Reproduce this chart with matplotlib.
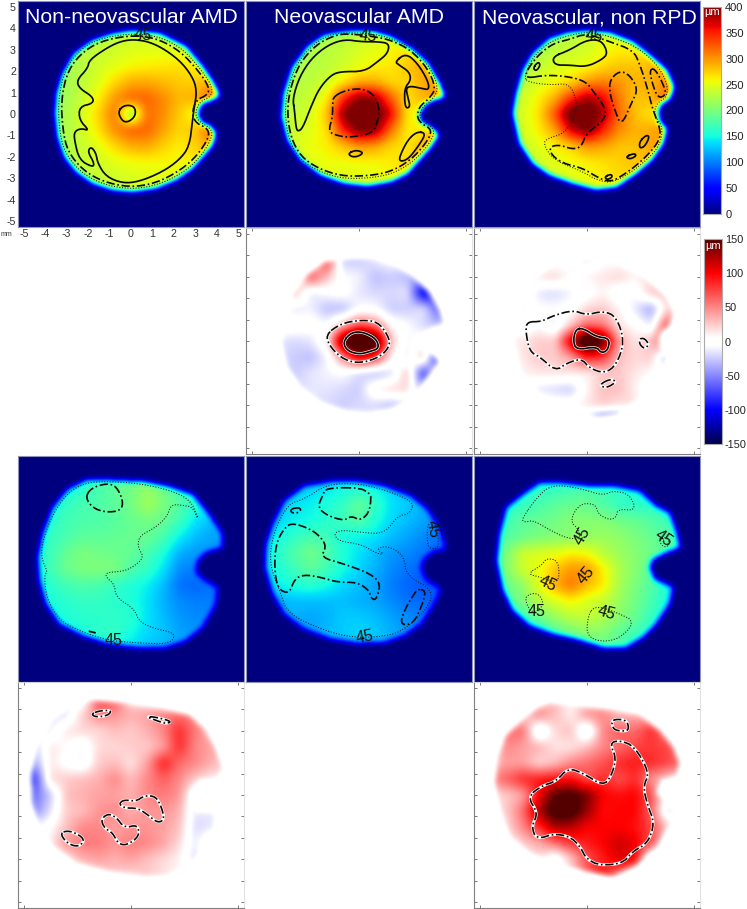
import numpy as np
import matplotlib
matplotlib.use('Agg')
import matplotlib.pyplot as plt
from matplotlib.colors import LinearSegmentedColormap
from matplotlib.path import Path

plt.rcParams['font.family'] = ['Liberation Sans', 'DejaVu Sans']
plt.rcParams['axes.unicode_minus'] = False

W, H = 747, 909

# grid of thickness values, mm
grid_x = [-4.5, -3.75, -3, -2.25, -1.5, -0.75, 0, 0.75, 1.5, 2.25, 3, 3.75, 4.5]
grid_y = [4.5, 3.75, 3, 2.25, 1.5, 0.75, 0, -0.75, -1.5, -2.25, -3, -3.75, -4.5]

# row 1 : total thickness
nonneo_thick = [
    [222, 222, 222, 222, 225, 232, 238, 235, 235, 235, 235, 235, 235],
    [222, 222, 222, 222, 225, 232, 238, 235, 235, 235, 235, 235, 235],
    [222, 222, 222, 230, 236, 240, 248, 250, 250, 250, 250, 250, 250],
    [222, 222, 222, 230, 242, 250, 258, 262, 265, 268, 262, 258, 258],
    [220, 220, 220, 232, 248, 272, 290, 292, 285, 278, 275, 295, 295],
    [215, 215, 220, 238, 262, 300, 322, 322, 305, 285, 290, 320, 320],
    [215, 215, 225, 245, 275, 315, 205, 318, 305, 278, 250, 245, 245],
    [215, 215, 225, 242, 268, 305, 325, 322, 295, 272, 280, 320, 320],
    [215, 215, 225, 238, 250, 272, 290, 292, 275, 262, 275, 295, 295],
    [218, 218, 225, 235, 242, 250, 255, 258, 258, 258, 262, 268, 268],
    [222, 222, 222, 230, 235, 240, 245, 248, 250, 252, 252, 252, 252],
    [222, 222, 222, 230, 235, 240, 245, 248, 250, 252, 252, 252, 252],
    [222, 222, 222, 230, 235, 240, 245, 248, 250, 252, 252, 252, 252],
]
neo_thick = [
    [225, 225, 225, 225, 225, 230, 235, 240, 250, 255, 255, 255, 255],
    [225, 225, 225, 225, 225, 230, 235, 240, 250, 255, 255, 255, 255],
    [225, 225, 225, 225, 230, 235, 245, 252, 258, 268, 275, 270, 270],
    [225, 225, 225, 228, 232, 240, 252, 260, 265, 278, 292, 285, 285],
    [225, 225, 228, 232, 240, 265, 290, 290, 272, 272, 292, 298, 298],
    [225, 225, 230, 238, 262, 345, 395, 390, 325, 268, 288, 305, 305],
    [228, 228, 235, 245, 280, 395, 430, 425, 365, 265, 252, 262, 262],
    [232, 232, 240, 250, 268, 350, 405, 395, 315, 262, 265, 305, 305],
    [235, 235, 245, 255, 262, 280, 300, 295, 272, 265, 288, 298, 298],
    [232, 232, 240, 250, 255, 255, 258, 258, 262, 272, 285, 280, 280],
    [230, 230, 238, 245, 248, 250, 250, 252, 260, 268, 270, 265, 265],
    [228, 228, 238, 240, 240, 240, 240, 245, 255, 260, 260, 260, 260],
    [228, 228, 238, 240, 240, 240, 240, 245, 255, 260, 260, 260, 260],
]
nonrpd_thick = [
    [220, 220, 220, 220, 225, 228, 240, 245, 250, 250, 250, 250, 250],
    [220, 220, 220, 220, 225, 228, 240, 245, 250, 250, 250, 250, 250],
    [220, 220, 220, 222, 232, 238, 242, 255, 262, 262, 275, 275, 275],
    [220, 220, 225, 235, 245, 248, 255, 270, 280, 280, 285, 295, 295],
    [225, 225, 232, 245, 258, 272, 300, 310, 300, 288, 288, 302, 325],
    [232, 232, 242, 262, 290, 345, 385, 365, 310, 280, 285, 325, 345],
    [238, 238, 245, 268, 330, 420, 430, 385, 320, 282, 265, 268, 268],
    [235, 235, 245, 262, 295, 370, 405, 350, 305, 288, 292, 302, 302],
    [232, 232, 238, 250, 260, 275, 300, 295, 280, 280, 295, 300, 300],
    [230, 230, 235, 242, 250, 255, 262, 268, 275, 280, 285, 280, 280],
    [230, 230, 232, 238, 245, 250, 255, 262, 270, 275, 275, 270, 270],
    [230, 230, 232, 235, 240, 245, 250, 258, 265, 270, 270, 270, 270],
    [230, 230, 232, 235, 240, 245, 250, 258, 265, 270, 270, 270, 270],
]

# row 3
nonneo_row3 = [
    [150, 150, 150, 160, 175, 185, 195, 210, 195, 175, 165, 150, 150],
    [150, 150, 150, 160, 175, 185, 195, 212, 195, 175, 165, 150, 150],
    [150, 150, 165, 175, 178, 185, 195, 218, 200, 180, 160, 145, 145],
    [150, 160, 172, 176, 178, 182, 190, 195, 190, 170, 140, 125, 125],
    [150, 165, 176, 185, 185, 188, 190, 190, 175, 145, 125, 115, 115],
    [150, 170, 190, 200, 195, 192, 188, 175, 155, 120, 110, 110, 110],
    [150, 172, 192, 200, 202, 200, 178, 165, 140, 105, 100, 100, 100],
    [150, 160, 172, 178, 175, 165, 155, 145, 125, 95, 90, 95, 95],
    [150, 155, 160, 165, 165, 160, 155, 140, 120, 105, 100, 100, 100],
    [150, 150, 155, 160, 160, 162, 160, 140, 125, 110, 105, 105, 105],
    [140, 140, 145, 155, 162, 165, 150, 135, 128, 115, 110, 105, 105],
    [130, 130, 130, 145, 150, 148, 138, 128, 122, 118, 110, 105, 105],
    [130, 130, 130, 145, 150, 148, 138, 128, 122, 118, 110, 105, 105],
]
neo_row3 = [
    [130, 130, 130, 135, 140, 150, 155, 150, 135, 125, 125, 125, 125],
    [130, 130, 130, 135, 140, 150, 155, 150, 135, 125, 125, 125, 125],
    [130, 130, 140, 145, 155, 165, 190, 165, 140, 130, 120, 110, 110],
    [130, 135, 145, 150, 160, 170, 180, 155, 135, 125, 115, 100, 100],
    [135, 150, 165, 175, 170, 150, 145, 140, 125, 115, 105, 95, 95],
    [140, 160, 180, 195, 180, 155, 140, 125, 110, 105, 95, 90, 90],
    [140, 155, 170, 185, 170, 150, 135, 120, 105, 95, 90, 90, 90],
    [130, 145, 155, 160, 150, 135, 125, 115, 100, 90, 85, 85, 85],
    [120, 120, 125, 125, 125, 125, 120, 115, 105, 95, 90, 90, 90],
    [120, 120, 120, 115, 120, 130, 130, 125, 115, 105, 100, 95, 95],
    [115, 115, 115, 115, 125, 130, 135, 130, 120, 110, 105, 100, 100],
    [115, 115, 115, 115, 120, 125, 125, 125, 115, 110, 105, 100, 100],
    [115, 115, 115, 115, 120, 125, 125, 125, 115, 110, 105, 100, 100],
]
nonrpd_row3 = [
    [160, 160, 160, 160, 165, 172, 178, 170, 165, 160, 155, 155, 155],
    [160, 160, 160, 160, 165, 172, 178, 170, 165, 160, 155, 155, 155],
    [160, 160, 165, 175, 185, 190, 190, 180, 165, 160, 160, 155, 155],
    [170, 170, 185, 190, 195, 205, 205, 205, 195, 190, 180, 170, 170],
    [175, 180, 190, 200, 205, 205, 210, 215, 210, 200, 190, 180, 180],
    [180, 200, 240, 245, 250, 262, 255, 230, 215, 205, 195, 180, 180],
    [180, 205, 240, 255, 280, 300, 300, 262, 225, 205, 185, 165, 165],
    [180, 190, 210, 250, 290, 315, 285, 265, 220, 200, 180, 155, 155],
    [170, 180, 200, 230, 245, 260, 245, 235, 215, 195, 175, 150, 150],
    [165, 165, 170, 190, 215, 230, 235, 225, 205, 190, 165, 150, 150],
    [150, 150, 150, 155, 175, 195, 205, 205, 185, 170, 160, 150, 150],
    [150, 150, 150, 155, 165, 172, 180, 185, 178, 165, 160, 150, 150],
    [150, 150, 150, 155, 165, 172, 180, 185, 178, 165, 160, 150, 150],
]

# difference maps, rows 2 and 4
neo_diff = [
    [0, 0, 0, 0, 0, 0, 0, 0, 0, 0, 0, 0, 0],
    [0, 0, 0, 0, 80, -25, -25, -15, -5, -25, 0, 0, 0],
    [0, 0, 0, 70, 30, -5, -10, -30, -25, -30, -50, 0, 0],
    [0, 0, 30, -15, -5, 0, -15, -20, -20, -15, -110, -80, 0],
    [0, 0, -15, -10, -30, -30, -5, -5, -25, -25, -15, -70, 0],
    [0, 5, 5, 0, -5, 30, 70, 55, 5, -5, -20, -30, 0],
    [0, -15, -20, -15, 10, 150, 215, 175, 30, -10, 5, -5, 0],
    [0, -20, -25, -30, -10, 50, 110, 85, 10, -15, 30, -110, 0],
    [0, -20, -25, -15, -10, -5, -20, -30, -20, 30, -80, 0, 0],
    [0, -10, -20, -15, -15, -20, -25, 10, 20, 20, -35, 0, 0],
    [0, 0, -10, -15, -20, -25, -20, -20, -30, -20, -15, 0, 0],
    [0, 0, 0, 0, -10, -15, -15, -15, -10, 0, 0, 0, 0],
    [0, 0, 0, 0, 0, 0, 0, 0, 0, 0, 0, 0, 0],
]
nonrpd_diff = [
    [0, 0, 0, 0, 0, 0, -15, 0, 0, 0, 0, 0, 0],
    [0, 0, 0, 0, 0, 5, -15, 5, 5, 0, 0, 0, 0],
    [0, 0, 0, 15, 20, 5, 10, 15, 20, 10, 20, 25, 0],
    [0, 0, 10, -15, -20, -10, 0, 10, -5, -5, 25, 30, 0],
    [0, 0, 10, -5, -5, 0, 20, 25, 10, -15, -40, 20, 35],
    [0, 0, -10, 5, -15, 25, 60, 55, 15, 5, -15, 75, 0],
    [0, 10, 15, 25, 25, 115, 200, 150, 40, 15, 30, 95, 0],
    [0, 0, 15, 25, 25, 40, 90, 80, 30, 20, 25, -40, 0],
    [0, 0, 10, 15, 15, 15, 10, 25, 25, 15, 5, 0, 0],
    [0, 0, 0, -15, -20, -25, 10, 30, 30, 10, -10, 0, 0],
    [0, 0, 5, 10, 5, 5, 15, 25, 15, 20, 5, 0, 0],
    [0, 0, 0, 0, -20, -15, -25, -80, -70, -5, 0, 0, 0],
    [0, 0, 0, 0, 0, 0, 0, 0, 0, 0, 0, 0, 0],
]
nonneo_diff4 = [
    [-10, -10, -10, -10, 80, 70, 15, 15, 15, 15, 15, 0, 0],
    [-20, -20, -15, 25, 50, 45, 35, 40, 50, 60, 50, 20, 0],
    [-20, -10, 15, 20, 20, 30, 25, 35, 50, 85, 55, 30, 15],
    [-25, 15, 5, -10, 20, 20, 25, 25, 40, 85, 50, 40, 25],
    [-40, 15, 0, -10, 25, 30, 15, 40, 90, 60, 50, 35, 25],
    [-80, 20, 25, 30, 35, 50, 30, 50, 65, 50, 25, 15, 0],
    [-60, -25, 30, 35, 40, 40, 35, 50, 55, 45, -15, -10, 0],
    [-50, -15, 25, 30, 45, 50, 35, 45, 45, 35, -15, -15, 0],
    [-10, 5, 30, 50, 50, 40, 45, 45, 40, 30, -20, -15, 0],
    [-5, 15, 45, 55, 55, 45, 55, 50, 40, 20, -15, 20, 0],
    [0, 5, 15, 35, 40, 35, 40, 30, 20, 10, -20, 30, 0],
    [0, 0, 0, 10, 20, 25, 20, 25, 15, 10, 0, 0, 0],
    [0, 0, 0, 0, 0, 0, 0, 0, 0, 0, 0, 0, 0],
]
nonrpd_diff4 = [
    [0, 0, 0, 25, 30, 10, 20, 30, 20, 20, 0, 0, 0],
    [0, 0, 20, 50, 30, 10, 45, 50, 30, 35, 30, 0, 0],
    [0, 60, 60, -25, 20, 30, -25, 50, 65, 60, 85, 50, 20],
    [20, 50, 40, 35, 15, 15, 30, 50, 60, 75, 80, 75, 50],
    [30, 40, 40, 20, 30, 50, 60, 70, 85, 90, 85, 75, 60],
    [50, 65, 85, 90, 95, 95, 70, 85, 70, 85, 45, 25, 10],
    [20, 25, 40, 100, 150, 160, 140, 100, 95, 100, 70, 5, 0],
    [15, 25, 60, 125, 165, 165, 130, 95, 100, 100, 65, -20, 0],
    [10, 20, 50, 85, 125, 120, 100, 100, 100, 95, 75, 30, 0],
    [0, 5, 25, 35, 60, 80, 90, 100, 115, 105, 70, 15, 0],
    [0, 0, 5, 20, -15, 25, 70, 90, 110, 100, -30, 0, 0],
    [0, 0, 0, 0, 5, 30, 70, 90, 50, 20, 0, 0, 0],
    [0, 0, 0, 0, 0, 0, 0, 0, 0, 0, 0, 0, 0],
]

# scan area outlines, mm
outline_a = [(0.08, 3.88), (1.32, 3.76), (2.56, 3.14), (3.34, 2.21), (3.80, 1.51), (4.11, 0.88), (3.80, 0.68), (3.36, 0.53), (3.17, 0.26), (3.12, -0.05), (3.29, -0.40), (3.71, -0.59), (3.94, -0.90), (3.80, -1.44), (3.34, -1.99), (2.87, -2.53), (2.10, -3.07), (1.16, -3.46), (0.08, -3.62), (-0.85, -3.54), (-1.79, -3.23), (-2.56, -2.69), (-3.11, -1.99), (-3.42, -1.06), (-3.53, 0.03), (-3.46, 0.96), (-3.18, 1.89), (-2.64, 2.82), (-1.79, 3.43), (-0.85, 3.74)]
outline_b = [(-0.68, 3.84), (0.56, 3.88), (1.49, 3.60), (2.42, 3.06), (3.20, 2.36), (3.74, 1.43), (3.98, 0.81), (3.51, 0.68), (3.12, 0.47), (2.81, 0.03), (2.89, -0.36), (3.43, -0.67), (3.70, -0.98), (3.35, -1.52), (2.81, -2.14), (2.27, -2.76), (1.49, -3.15), (0.40, -3.35), (-0.68, -3.23), (-1.77, -2.84), (-2.70, -2.14), (-3.32, -1.21), (-3.60, -0.12), (-3.51, 0.96), (-3.09, 2.20), (-2.39, 3.14), (-1.61, 3.68)]
outline_c = [(-0.03, 3.88), (1.06, 3.79), (2.14, 3.37), (2.92, 2.75), (3.70, 2.05), (4.04, 1.27), (3.85, 0.73), (3.46, 0.47), (3.31, 0.11), (3.39, -0.36), (3.70, -0.67), (3.54, -1.37), (3.00, -2.14), (2.30, -2.76), (1.37, -3.39), (0.43, -3.51), (-0.65, -3.23), (-1.74, -2.84), (-2.52, -2.30), (-3.14, -1.37), (-3.45, 0.03), (-3.29, 0.96), (-2.98, 2.05), (-2.52, 2.83), (-1.74, 3.52), (-0.89, 3.79)]
outline_d = [(-1.01, 4.15), (0.54, 4.08), (1.79, 3.84), (2.88, 3.49), (3.65, 2.56), (4.27, 1.63), (4.27, 1.01), (3.49, 0.78), (3.11, 0.39), (3.03, -0.16), (3.49, -0.54), (4.04, -0.85), (3.96, -1.63), (3.34, -2.72), (2.56, -3.35), (1.63, -3.65), (0.23, -3.65), (-1.01, -3.49), (-2.25, -3.11), (-3.34, -2.56), (-3.96, -1.63), (-4.27, -0.54), (-4.35, 0.54), (-4.12, 1.63), (-3.65, 2.87), (-2.95, 3.73), (-2.10, 4.15)]
outline_e = [(-1.30, 4.08), (-0.06, 4.08), (1.18, 3.88), (2.42, 3.42), (3.20, 2.80), (3.82, 1.86), (4.05, 0.92), (3.51, 0.85), (3.04, 0.47), (2.89, 0.08), (3.12, -0.47), (3.82, -0.93), (3.51, -1.63), (2.89, -2.56), (2.11, -3.11), (1.18, -3.42), (-0.06, -3.46), (-1.30, -3.26), (-2.55, -2.80), (-3.48, -2.10), (-4.02, -1.16), (-4.38, 0.08), (-4.33, 1.16), (-4.02, 2.10), (-3.48, 3.18), (-2.55, 3.88)]
outline_f = [(-1.43, 4.04), (-0.03, 3.88), (1.21, 3.88), (2.45, 3.65), (3.23, 2.95), (3.85, 2.64), (4.16, 1.78), (4.32, 1.01), (3.70, 0.78), (3.07, 0.47), (2.92, 0.08), (3.15, -0.47), (4.01, -0.85), (3.85, -1.63), (3.23, -2.56), (2.61, -3.18), (1.83, -3.65), (0.74, -3.65), (-0.50, -3.26), (-1.58, -3.03), (-2.67, -2.64), (-3.45, -1.94), (-3.91, -1.01), (-4.19, 0.39), (-4.07, 1.63), (-3.76, 2.87), (-2.98, 3.49), (-2.20, 4.04)]
outline_g = [(-1.94, 4.41), (-0.23, 4.29), (1.32, 4.05), (2.72, 3.74), (3.49, 3.04), (3.96, 2.11), (4.30, 1.18), (4.04, 0.79), (3.18, 0.71), (2.80, 0.02), (3.03, -0.84), (3.96, -0.84), (3.88, -1.61), (3.49, -2.55), (2.56, -3.32), (1.63, -3.79), (0.54, -3.79), (-1.01, -3.56), (-2.56, -3.17), (-3.65, -2.39), (-4.27, -1.46), (-4.61, -0.37), (-4.66, 1.02), (-4.35, 2.27), (-3.65, 3.51), (-2.72, 4.21)]
outline_h = [(-1.74, 4.29), (-0.19, 4.13), (1.21, 3.98), (2.45, 3.74), (3.39, 3.04), (4.01, 2.27), (4.32, 1.49), (4.16, 0.87), (3.46, 0.71), (3.23, 0.09), (3.70, -0.30), (4.25, -0.84), (3.70, -1.61), (3.23, -2.55), (2.30, -3.32), (1.21, -3.82), (-0.03, -3.56), (-1.43, -3.17), (-2.67, -2.70), (-3.60, -1.93), (-3.98, -0.84), (-4.30, 0.56), (-4.14, 1.80), (-3.82, 2.73), (-3.14, 3.42), (-2.36, 4.04)]

# contours : solid, dash-dot, dotted
a_solid = [
    [(0.08, 3.48), (0.85, 3.37), (1.63, 2.98), (2.41, 2.36), (2.95, 1.58), (3.06, 0.96), (2.95, 0.34), (2.87, -0.28), (2.72, -1.52), (2.25, -2.14), (1.48, -2.69), (0.39, -3.15), (-0.39, -3.23), (-1.16, -2.92), (-1.55, -2.30), (-1.63, -1.83), (-1.86, -1.52), (-2.02, -1.75), (-1.71, -2.30), (-1.79, -2.48), (-2.41, -2.14), (-2.64, -1.21), (-2.64, -0.82), (-2.33, -0.67), (-1.94, -0.78), (-2.41, -0.28), (-2.41, 0.34), (-1.75, 0.50), (-1.79, 0.81), (-2.41, 1.20), (-2.53, 1.58), (-2.02, 2.13), (-1.94, 2.52), (-1.16, 3.06), (-0.54, 3.37)],
    [(-0.62, 0.11), (-0.31, 0.42), (0.16, 0.37), (0.23, -0.05), (-0.08, -0.36), (-0.39, -0.36)],
]
a_dashdot = [[(0.23, 3.68), (1.32, 3.48), (2.33, 2.90), (3.18, 1.97), (3.65, 1.24), (3.57, 0.89), (3.03, 0.65), (2.84, 0.03), (3.03, -0.43), (3.57, -0.67), (3.65, -1.06), (3.11, -1.91), (2.33, -2.61), (1.16, -3.23), (-0.08, -3.42), (-1.32, -3.15), (-2.25, -2.61), (-2.95, -1.75), (-3.18, -0.75), (-3.26, 0.65), (-2.95, 2.05), (-2.17, 2.98), (-1.16, 3.48)]]
a_dotted = [[(0.23, 3.76), (1.47, 3.56), (2.48, 2.98), (3.34, 1.97), (3.80, 1.24), (3.73, 0.81), (3.19, 0.57), (2.98, 0.03), (3.17, -0.36), (3.73, -0.67), (3.80, -1.06), (3.26, -1.99), (2.41, -2.76), (1.16, -3.34), (-0.08, -3.51), (-1.39, -3.26), (-2.41, -2.67), (-3.11, -1.75), (-3.34, -0.75), (-3.40, 0.65), (-3.07, 2.13), (-2.25, 3.14), (-1.16, 3.60)]]

b_solid = [
    [(-3.01, 0.19), (-3.09, 0.73), (-2.77, 1.74), (-2.22, 2.59), (-1.46, 3.21), (-0.68, 3.48), (0.09, 3.37), (0.87, 3.37), (1.41, 3.29), (1.34, 2.83), (0.87, 2.44), (0.25, 1.98), (-0.84, 1.98), (-1.30, 1.82), (-1.85, 1.20), (-2.24, 0.34), (-2.63, -0.67), (-2.86, -0.82), (-2.94, -0.59)],
    [(1.68, 2.44), (2.19, 2.83), (2.73, 2.36), (3.20, 1.58), (3.28, 1.12), (2.89, 1.20), (2.42, 1.30), (2.19, 1.20), (2.27, 0.81), (2.39, 0.34), (2.19, 0.26), (2.12, 0.65), (2.14, 1.23), (2.42, 1.58), (2.34, 1.97), (1.87, 2.28)],
    [(2.73, -0.82), (3.12, -0.90), (2.81, -1.44), (2.27, -2.14), (1.83, -2.22), (2.03, -1.67), (2.34, -1.13)],
    [(-0.50, -1.83), (-0.14, -1.68), (0.22, -1.80), (-0.06, -1.99), (-0.37, -1.99)],
]
b_dashdot = [
    [(-1.18, 0.81), (-0.68, 1.09), (0.09, 1.20), (0.64, 0.96), (0.95, 0.34), (0.87, -0.36), (0.64, -0.90), (-0.37, -1.09), (-0.99, -1.02), (-1.43, -0.82), (-1.23, -0.12), (-1.23, 0.50)],
    [(-0.68, 3.76), (0.56, 3.63), (1.49, 3.45), (2.42, 2.98), (3.20, 2.13), (3.59, 1.20), (3.28, 0.73), (2.81, 0.34), (2.70, -0.12), (2.89, -0.43), (3.43, -0.75), (3.12, -1.37), (2.42, -2.14), (1.49, -2.69), (0.40, -2.89), (-0.84, -2.89), (-1.92, -2.53), (-2.70, -1.99), (-3.17, -1.13), (-3.35, 0.03), (-3.23, 1.12), (-2.78, 2.36), (-2.01, 3.21), (-1.30, 3.60)],
]
b_dotted = [[(-0.68, 3.80), (0.56, 3.75), (1.55, 3.52), (2.50, 3.06), (3.31, 2.20), (3.72, 1.20), (3.40, 0.65), (2.92, 0.28), (2.81, -0.12), (3.00, -0.36), (3.58, -0.75), (3.24, -1.45), (2.50, -2.25), (1.55, -2.80), (0.40, -3.00), (-0.88, -3.00), (-2.00, -2.62), (-2.80, -2.07), (-3.28, -1.18), (-3.46, 0.03), (-3.34, 1.15), (-2.88, 2.42), (-2.08, 3.30), (-1.35, 3.70)]]

c_solid = [
    [(-1.61, 2.67), (-0.81, 2.98), (-0.03, 3.45), (0.67, 3.45), (0.98, 2.83), (0.67, 2.52), (-0.03, 2.20), (-0.81, 2.28), (-1.51, 2.28)],
    [(-2.52, 2.13), (-2.28, 2.44), (-2.17, 2.28), (-2.36, 2.00)],
    [(2.45, -1.29), (2.76, -0.98), (2.92, -1.06), (2.69, -1.52), (2.45, -1.60)],
    [(1.80, -1.99), (2.22, -1.83), (2.30, -1.96), (1.99, -2.11)],
    [(0.82, -2.92), (1.14, -2.80), (1.18, -2.95), (0.93, -3.07)],
]
c_dashdot = [
    [(-2.83, 1.66), (-1.90, 1.82), (-0.81, 1.74), (-0.03, 1.50), (0.36, 0.96), (0.87, 0.26), (0.82, -0.28), (-0.03, -0.90), (-0.26, -1.52), (-0.65, -1.65), (-1.27, -1.44), (-1.74, -1.52), (-1.66, -1.91), (-1.12, -2.30), (-0.19, -2.53), (0.43, -2.92), (1.06, -3.20), (1.83, -2.76), (2.61, -2.14), (3.30, -1.37), (3.46, -0.82), (3.07, 0.19), (2.84, 1.12), (2.45, 2.36), (2.14, 2.98), (1.06, 3.37), (-0.03, 3.76), (-0.81, 3.48), (-1.58, 3.29), (-2.28, 2.75), (-2.83, 1.99)],
    [(1.06, 1.58), (1.52, 2.02), (1.99, 1.82), (2.38, 1.15), (2.07, 0.50), (1.60, -0.56), (1.29, 0.19), (1.06, 0.96)],
    [(2.92, 2.05), (3.15, 2.13), (3.54, 1.43), (3.70, 0.89), (3.31, 0.73), (3.04, 1.43)],
]
c_dotted = [[(-2.83, 1.50), (-2.90, 1.82), (-2.52, 2.67), (-1.74, 3.37), (-0.81, 3.68), (0.12, 3.84), (1.21, 3.57), (2.30, 3.14), (3.15, 2.44), (3.70, 1.58), (3.77, 0.81), (3.23, 0.50), (3.12, -0.05), (3.54, -0.59), (3.39, -1.52), (2.45, -2.45), (1.21, -3.23), (0.43, -3.07), (-0.19, -2.69), (-1.58, -2.14), (-2.05, -1.37), (-1.82, -1.13), (-1.04, -0.90), (-0.50, 0.03), (-0.50, 0.65), (-0.81, 1.43), (-1.74, 1.35)]]

neo_diff_dash = [[(-1.58, 0.28), (-0.84, 0.82), (0.09, 0.98), (0.87, 0.90), (1.34, 0.28), (1.46, -0.19), (1.02, -0.73), (0.09, -1.04), (-0.68, -0.89), (-1.30, -0.34)]]
neo_diff_solid = [[(-0.76, -0.06), (-0.37, 0.40), (0.17, 0.43), (0.79, 0.12), (0.95, -0.34), (0.48, -0.50), (0.02, -0.62), (-0.53, -0.47)]]
nonrpd_diff_dash = [
    [(-2.80, 0.90), (-2.13, 0.90), (-1.58, 1.18), (-0.65, 1.44), (-0.03, 1.21), (0.75, 1.40), (1.37, 1.14), (1.75, -0.03), (1.37, -1.12), (0.82, -1.51), (0.12, -1.27), (-0.26, -0.81), (-0.96, -1.04), (-1.46, -1.40), (-2.21, -0.73), (-2.67, -0.50), (-2.86, 0.43)],
    [(2.45, 0.12), (2.69, 0.12), (2.89, -0.16), (2.69, -0.37), (2.45, -0.16)],
    [(0.56, -2.05), (1.06, -1.77), (1.40, -1.89), (0.90, -2.20)],
]
nonrpd_diff_solid = [[(-0.50, 0.59), (-0.11, 0.56), (0.43, 0.20), (1.06, 0.12), (0.98, -0.42), (0.67, -0.57), (0.43, -0.26), (-0.50, -0.42), (-0.65, 0.05)]]

d_dashdot = [
    [(-2.13, 3.34), (-1.86, 3.77), (-1.16, 3.99), (-0.70, 3.88), (-0.36, 3.18), (-0.47, 2.72), (-1.16, 2.64), (-1.78, 2.84)],
]
d_short = [[(-1.97, -2.90), (-1.60, -2.99)]]
d_dotted = [[(3.11, 2.33), (2.87, 2.87), (2.56, 2.95), (1.86, 3.03), (1.71, 2.48), (1.16, 1.94), (0.39, 1.55), (0.31, 1.01), (0.62, 0.54), (0.08, 0.08), (-0.39, -0.11), (-1.16, -0.16), (-1.16, -0.39), (-0.78, -0.70), (-0.70, -1.32), (0.16, -1.86), (0.39, -2.48), (1.16, -2.80), (1.94, -2.95), (2.02, -3.26), (1.63, -3.49), (0.54, -3.46), (-1.01, -3.34), (-2.25, -2.95), (-3.34, -2.41), (-3.96, -1.32), (-4.04, -0.23), (-3.88, -0.16), (-4.19, 0.54), (-4.12, 1.32), (-3.65, 2.56), (-2.95, 3.56), (-2.10, 4.04), (-0.85, 4.08), (0.54, 3.96), (1.79, 3.68), (2.72, 3.26), (3.11, 2.48)]]

e_dashdot = [
    [(-1.54, 3.80), (0.56, 3.77), (0.53, 2.72), (0.09, 2.25), (-0.37, 2.48), (-0.68, 2.25), (-1.46, 2.48), (-1.93, 2.87), (-1.70, 3.42)],
    [(-3.17, 2.17), (-2.24, 1.86), (-1.70, 1.40), (-1.54, 1.01), (-1.78, 0.54), (-0.68, 0.23), (0.56, -0.23), (1.02, -0.70), (0.79, -1.48), (0.53, -1.32), (0.48, -1.01), (-0.06, -0.62), (-0.99, -0.62), (-1.77, -0.39), (-2.55, -0.26), (-3.01, -0.47), (-3.25, -1.16), (-3.79, -0.93), (-3.95, 0.08), (-3.87, 1.16), (-3.56, 1.79)],
    [(2.73, -0.93), (3.12, -1.01), (2.96, -1.63), (2.58, -2.48), (2.11, -2.64), (1.93, -2.41), (2.27, -1.63), (2.58, -1.16)],
    [(-3.17, 2.80), (-2.78, 2.87), (-2.70, 2.72), (-2.93, 2.59), (-3.17, 2.64)],
]
e_dotted = [
    [(2.58, 3.11), (2.35, 2.56), (1.80, 2.48), (1.18, 1.63), (0.09, 1.71), (-0.84, 1.82), (-1.18, 1.63), (-0.92, 1.29), (0.09, 1.16), (0.87, 0.70), (1.18, 0.70), (0.79, 0.92), (1.34, 1.09), (2.11, 0.62), (2.19, -0.31), (3.51, -1.01), (3.12, -1.94), (1.96, -2.95), (0.87, -3.18), (-0.37, -3.18), (-1.61, -2.87), (-3.32, -2.10), (-3.70, -1.01), (-4.18, 0.23), (-4.02, 1.63), (-3.32, 3.03), (-2.55, 3.26), (-1.46, 3.96), (-0.06, 3.99), (1.34, 3.65)],
    [(3.20, 2.17), (3.59, 2.17), (3.74, 1.01), (3.43, 0.93), (3.17, 1.09)],
]

f_dotted = [
    [(-3.06, 2.33), (-2.21, 3.49), (-1.58, 3.93), (-0.34, 3.77), (0.74, 3.42), (1.21, 3.65), (1.99, 3.49), (2.30, 2.72), (1.44, 2.80), (1.37, 2.42), (1.06, 2.28), (0.51, 2.56), (0.40, 3.03), (-0.34, 3.06), (-0.81, 2.25), (-0.34, 1.79), (-0.34, 1.40), (-0.96, 1.44), (-1.74, 1.82), (-2.52, 2.28), (-2.90, 2.17)],
    [(-2.80, -0.23), (-2.13, 0.16), (-1.89, 0.51), (-1.32, 0.39), (-1.30, -0.70), (-2.13, -0.39)],
    [(-2.86, -1.24), (-2.30, -1.09), (-1.97, -1.66), (-2.52, -2.10), (-2.83, -1.63)],
    [(0.05, -2.10), (0.43, -1.71), (1.37, -2.02), (2.30, -2.48), (1.29, -3.42), (-0.03, -3.26)],
    [(3.31, 1.44), (3.77, 1.48), (3.85, 1.09), (3.54, 1.01)],
]

g_dash = [
    [(-1.86, 3.79), (-1.40, 3.94), (-0.89, 3.94), (-1.09, 3.70), (-1.66, 3.63)],
    [(0.70, 3.66), (1.16, 3.63), (1.91, 3.43), (1.63, 3.32), (1.16, 3.48)],
    [(-0.57, -0.40), (-0.31, -0.22), (0.23, -0.30), (0.62, -0.03), (1.16, -0.06), (1.44, -0.61), (1.55, -1.15), (1.24, -1.30), (0.78, -0.92), (0.31, -0.61), (-0.31, -0.61)],
    [(-1.40, -1.15), (-1.09, -0.87), (-0.70, -1.02), (-0.31, -1.54), (0.31, -1.38), (0.39, -1.93), (-0.23, -2.36), (-0.62, -2.24), (-0.85, -1.77), (-1.24, -1.54)],
    [(-3.31, -1.77), (-2.87, -1.65), (-2.25, -1.96), (-2.22, -2.24), (-2.56, -2.42), (-3.03, -2.20)],
]
h_dash = [
    [(1.13, 3.43), (1.37, 3.54), (1.86, 3.48), (1.96, 3.04), (1.68, 2.97), (1.24, 3.04)],
    [(-2.78, -0.09), (-2.11, 0.43), (-1.43, 0.64), (-0.89, 1.26), (-0.19, 1.02), (0.75, 0.43), (1.13, 0.87), (1.37, 1.72), (1.06, 2.42), (1.52, 2.55), (2.22, 2.27), (2.92, 1.02), (2.61, 0.40), (2.84, -0.53), (3.15, -1.30), (2.84, -2.24), (2.14, -2.62), (1.60, -3.25), (0.12, -3.25), (-0.50, -2.08), (-1.43, -1.77), (-2.36, -2.08), (-2.59, -1.46), (-2.28, -0.84)],
]

# contour labels: x, y, rotation
a_labels = [(0.54, 3.68, -5)]
b_labels = [(0.40, 3.63, -5)]
c_labels = [(0.31, 3.63, -5)]
d_labels = [(-0.82, -3.34, 0)]
e_labels = [(3.43, 1.86, -80), (0.25, -3.18, 10)]
f_labels = [(-0.22, 1.55, 60), (3.57, 1.44, -35), (-0.03, -0.31, 50), (-1.82, -0.67, -25), (-2.36, -1.97, 0), (0.90, -2.05, -15)]

col_x = [18, 246, 474]
row_y = [1, 228, 456, 682]
PANEL = 226
MM = 113 / 21.45  # half width of a panel in mm

diff_cmap = LinearSegmentedColormap.from_list('diff', [
    (0.0, '#00004d'), (1 / 6, '#0000ff'), (0.48, '#ffffff'),
    (0.52, '#ffffff'), (5 / 6, '#ff0000'), (1.0, '#550000')])

res = 320
fine = np.linspace(-MM, MM, res)
step = fine[1] - fine[0]


def blur(a, sigma):
    r = int(3 * sigma / step) + 1
    k = np.exp(-0.5 * (np.arange(-r, r + 1) * step / sigma) ** 2)
    k = k / k.sum()
    a = np.pad(a, r, mode='edge')
    a = np.apply_along_axis(lambda v: np.convolve(v, k, mode='same'), 0, a)
    a = np.apply_along_axis(lambda v: np.convolve(v, k, mode='same'), 1, a)
    return a[r:-r, r:-r]


def upsample(values):
    values = np.array(values, dtype=float)
    gy = np.array(grid_y)[::-1]
    part = np.array([np.interp(fine, gy, values[::-1, j]) for j in range(values.shape[1])]).T
    out = np.array([np.interp(fine, grid_x, row) for row in part])
    return blur(out, 0.16)


def soft_mask(outline, sigma):
    xx, yy = np.meshgrid(fine, fine)
    inside = Path(outline).contains_points(np.c_[xx.ravel(), yy.ravel()]).reshape(xx.shape)
    return blur(inside.astype(float), sigma)


def smooth(points, closed=True):
    pts = np.array(points, dtype=float)
    if not closed:
        return pts
    for _ in range(2):
        nxt = np.roll(pts, -1, axis=0)
        a = 0.75 * pts + 0.25 * nxt
        b = 0.25 * pts + 0.75 * nxt
        pts = np.stack([a, b], axis=1).reshape(-1, 2)
    return np.vstack([pts, pts[0]])


def draw_lines(ax, lines, kind, halo=False, closed=True):
    styles = {'solid': ('-', 1.25, '#0a0a0a'),
              'dashdot': ((0, (5, 1.6, 1, 1.6)), 1.2, '#0a0a0a'),
              'dash': ((0, (4, 1.6)), 1.3, '#0a0a0a'),
              'dotted': ((0, (1, 1.6)), 0.75, '#1a1a1a')}
    ls, lw, color = styles[kind]
    for line in lines:
        pts = smooth(line, closed)
        if halo:
            ax.plot(pts[:, 0], pts[:, 1], color='white', lw=lw + 0.9, zorder=3, solid_capstyle='round')
        ax.plot(pts[:, 0], pts[:, 1], color=color, lw=lw, ls=ls, zorder=4)


def make_axes(col, row):
    x0 = col_x[col]
    y0 = row_y[row]
    ax = fig.add_axes([x0 / W, 1 - (y0 + PANEL) / H, PANEL / W, PANEL / H])
    ax.set_xlim(-MM, MM)
    ax.set_ylim(-MM, MM)
    return ax


def thickness_panel(col, row, values, outline):
    ax = make_axes(col, row)
    field = upsample(values) * soft_mask(outline, 0.13)
    ax.imshow(field, origin='lower', extent=[-MM, MM, -MM, MM], cmap='jet', vmin=0, vmax=400,
              interpolation='bilinear', aspect='auto')
    ax.set_xticks([])
    ax.set_yticks([])
    for s in ax.spines.values():
        s.set_color('#8f93b8')
        s.set_linewidth(0.8)
    return ax


def diff_panel(col, row, values, outline):
    ax = make_axes(col, row)
    field = upsample(values) * soft_mask(outline, 0.12)
    ax.imshow(field, origin='lower', extent=[-MM, MM, -MM, MM], cmap=diff_cmap, vmin=-150, vmax=150,
              interpolation='bilinear', aspect='auto')
    ax.set_xticks([-5, 0, 5])
    ax.set_yticks(range(-5, 6))
    ax.tick_params(axis='both', direction='in', length=2.5, width=0.7, color='#777777',
                   labelleft=False, labelbottom=False, top=True, right=True)
    ax.spines['left'].set_color('#808080')
    ax.spines['bottom'].set_color('#808080')
    ax.spines['top'].set_color('#cfcfcf')
    ax.spines['right'].set_color('#e2e2e2')
    return ax


def put_labels(ax, labels):
    for x, y, rot in labels:
        ax.text(x, y, '45', fontsize=11.5, color='#111111', ha='center', va='center', rotation=rot, zorder=5)


fig = plt.figure(figsize=(W / 100, H / 100), dpi=100)

# row 1
ax = thickness_panel(0, 0, nonneo_thick, outline_a)
draw_lines(ax, a_dotted, 'dotted')
draw_lines(ax, a_dashdot, 'dashdot')
draw_lines(ax, a_solid, 'solid')
put_labels(ax, a_labels)
ax.text(0.5, 0.925, 'Non-neovascular AMD', transform=ax.transAxes, color='white', fontsize=15.3, ha='center', va='center')
ax.set_xticks(range(-5, 6))
ax.set_yticks(range(-5, 6))
ax.tick_params(length=0, labelsize=7.7, labelcolor='#333333', pad=1.5)
fig.text(0.5 / W, 1 - 235 / H, 'mm', fontsize=5, color='#333333', ha='left', va='center')

ax = thickness_panel(1, 0, neo_thick, outline_b)
draw_lines(ax, b_dotted, 'dotted')
draw_lines(ax, b_dashdot, 'dashdot')
draw_lines(ax, b_solid, 'solid')
put_labels(ax, b_labels)
ax.text(0.5, 0.925, 'Neovascular AMD', transform=ax.transAxes, color='white', fontsize=15.3, ha='center', va='center')

ax = thickness_panel(2, 0, nonrpd_thick, outline_c)
draw_lines(ax, c_dotted, 'dotted')
draw_lines(ax, c_dashdot, 'dashdot')
draw_lines(ax, c_solid, 'solid')
put_labels(ax, c_labels)
ax.text(0.51, 0.925, 'Neovascular, non RPD', transform=ax.transAxes, color='white', fontsize=15.3, ha='center', va='center')

# row 2
ax = diff_panel(1, 1, neo_diff, outline_b)
draw_lines(ax, neo_diff_dash, 'dashdot', halo=True)
draw_lines(ax, neo_diff_solid, 'solid', halo=True)

ax = diff_panel(2, 1, nonrpd_diff, outline_c)
draw_lines(ax, nonrpd_diff_dash, 'dashdot', halo=True)
draw_lines(ax, nonrpd_diff_solid, 'solid', halo=True)

# row 3
ax = thickness_panel(0, 2, nonneo_row3, outline_d)
draw_lines(ax, d_dotted, 'dotted')
draw_lines(ax, d_dashdot, 'dashdot')
draw_lines(ax, d_short, 'dash', closed=False)
put_labels(ax, d_labels)

ax = thickness_panel(1, 2, neo_row3, outline_e)
draw_lines(ax, e_dotted, 'dotted')
draw_lines(ax, e_dashdot, 'dashdot')
put_labels(ax, e_labels)

ax = thickness_panel(2, 2, nonrpd_row3, outline_f)
draw_lines(ax, f_dotted, 'dotted')
put_labels(ax, f_labels)

# row 4
ax = diff_panel(0, 3, nonneo_diff4, outline_g)
draw_lines(ax, g_dash, 'dashdot', halo=True)

ax = diff_panel(2, 3, nonrpd_diff4, outline_h)
draw_lines(ax, h_dash, 'dashdot', halo=True)

# colour bars
cb1 = fig.add_axes([703 / W, 1 - 214 / H, 18 / W, 207 / H])
cb1.imshow(np.linspace(0, 400, 256).reshape(-1, 1), origin='lower', extent=[0, 1, 0, 400], cmap='jet',
           vmin=0, vmax=400, aspect='auto')
cb1.set_xticks([])
cb1.yaxis.tick_right()
cb1.set_yticks(range(0, 401, 50))
cb1.tick_params(length=0, labelsize=8, labelcolor='#222222', pad=3)
cb1.text(0.5, 0.975, 'µm', transform=cb1.transAxes, color='white', fontsize=8, ha='center', va='center')
for s in cb1.spines.values():
    s.set_color('#aaaaaa')

cb2 = fig.add_axes([704 / W, 1 - 444 / H, 18 / W, 205 / H])
cb2.imshow(np.linspace(-150, 150, 256).reshape(-1, 1), origin='lower', extent=[0, 1, -150, 150], cmap=diff_cmap,
           vmin=-150, vmax=150, aspect='auto')
cb2.set_xticks([])
cb2.yaxis.tick_right()
cb2.set_yticks(range(-150, 151, 50))
cb2.tick_params(length=0, labelsize=7.8, labelcolor='#222222', pad=2)
cb2.text(0.5, 0.965, 'µm', transform=cb2.transAxes, color='white', fontsize=8, ha='center', va='center')
for s in cb2.spines.values():
    s.set_color('#aaaaaa')

fig.savefig('out.png', dpi=100, facecolor='white')
plt.close(fig)
